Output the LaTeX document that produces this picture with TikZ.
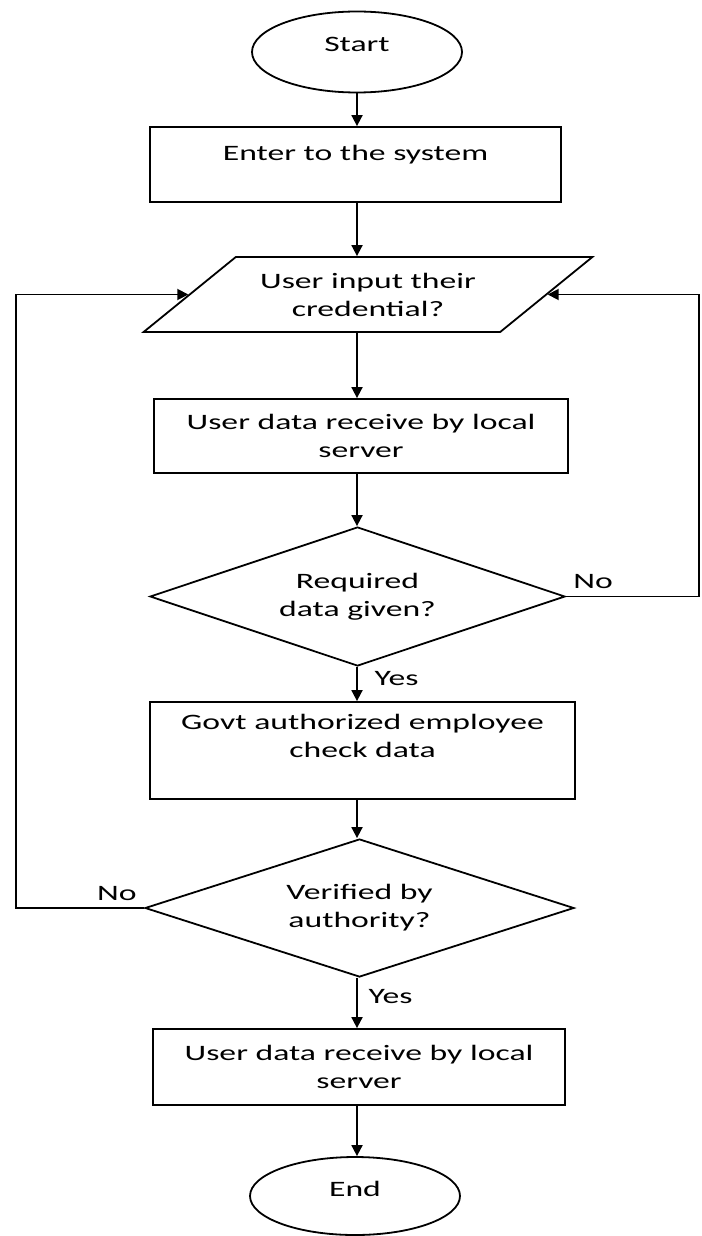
\documentclass[tikz,border=0pt]{standalone}
\usepackage{fontspec}
\setmainfont[FakeStretch=1.53]{Carlito}
\usetikzlibrary{arrows.meta,shapes.geometric,positioning}

\tikzset{
  flow/.style={draw, line width=0.9pt, font=\fontsize{11}{14}\selectfont, align=center, inner sep=0pt},
  term/.style={flow, ellipse, minimum width=105pt, minimum height=40.5pt},
  proc/.style={flow, rectangle},
  inout/.style={flow, trapezium, trapezium left angle=30, trapezium right angle=150, trapezium stretches=true},
  decide/.style={flow, diamond, aspect=3},
  line/.style={line width=0.9pt},
  arrow/.style={line, -{Triangle[length=5.5pt,width=5.5pt]}},
  lbl/.style={font=\fontsize{11}{14}\selectfont}
}

\begin{document}
\begin{tikzpicture}[x=0.5pt,y=-0.5pt]
  \useasboundingbox (0,0) rectangle (701,1236); %Fix page size

  \coordinate (col) at (357,0); %Main column
  \coordinate (leftrail) at (16,0); %Left return line
  \coordinate (rightrail) at (699,0); %Right return line

  \node[term, text depth=8pt] (start) at (357,52) {Start}; %Start
  \node[proc, minimum width=205.5pt, minimum height=37.5pt, text depth=12pt] (enter) at (355.5,164.5) {Enter to the system};
  \node[inout, minimum width=225pt, minimum height=37.5pt] (cred) at (368,294.5) {User input their\\credential?}; %Input
  \node[proc, minimum width=207pt, minimum height=37pt] (recv) at (361,436) {User data receive by local\\server};
  \node[decide, minimum width=207.5pt, minimum height=69.5pt] (given) at (357.5,596.5) {Required\\data given?}; %Decision 1
  \node[proc, minimum width=212.5pt, minimum height=48.5pt, text depth=15pt] (check) at (362.5,750.5) {Govt authorized employee\\check data};
  \node[decide, minimum width=214.5pt, minimum height=69pt] (verify) at (359.5,908) {Verified by\\authority?}; %Decision 2
  \node[proc, minimum width=206pt, minimum height=38pt] (store) at (359,1067) {User data receive by local\\server};
  \node[term, text depth=7pt, minimum height=39pt] (end) at (355,1196) {End}; %End

  \draw[arrow] (start.south -| col) -- (enter.north -| col);
  \draw[arrow] (enter.south -| col) -- (cred.north -| col);
  \draw[arrow] (cred.south -| col) -- (recv.north -| col);
  \draw[arrow] (recv.south -| col) -- (given.north -| col);
  \draw[arrow] (given.south -| col) -- node[right, pos=0.35, xshift=5pt, lbl] {Yes} (check.north -| col);
  \draw[arrow] (check.south -| col) -- (verify.north -| col);
  \draw[arrow] (verify.south -| col) -- node[right, pos=0.37, xshift=2pt, lbl] {Yes} (store.north -| col);
  \draw[arrow] (store.south -| col) -- (end.north -| col);

  \draw[arrow] (given.east) node[above right, lbl] {No} -- (given.east -| rightrail) |- (cred.east); %Loop back right
  \draw[arrow] (verify.west) node[above left, lbl] {No} -- (verify.west -| leftrail) |- (cred.west); %Loop back left
\end{tikzpicture}
\end{document}
